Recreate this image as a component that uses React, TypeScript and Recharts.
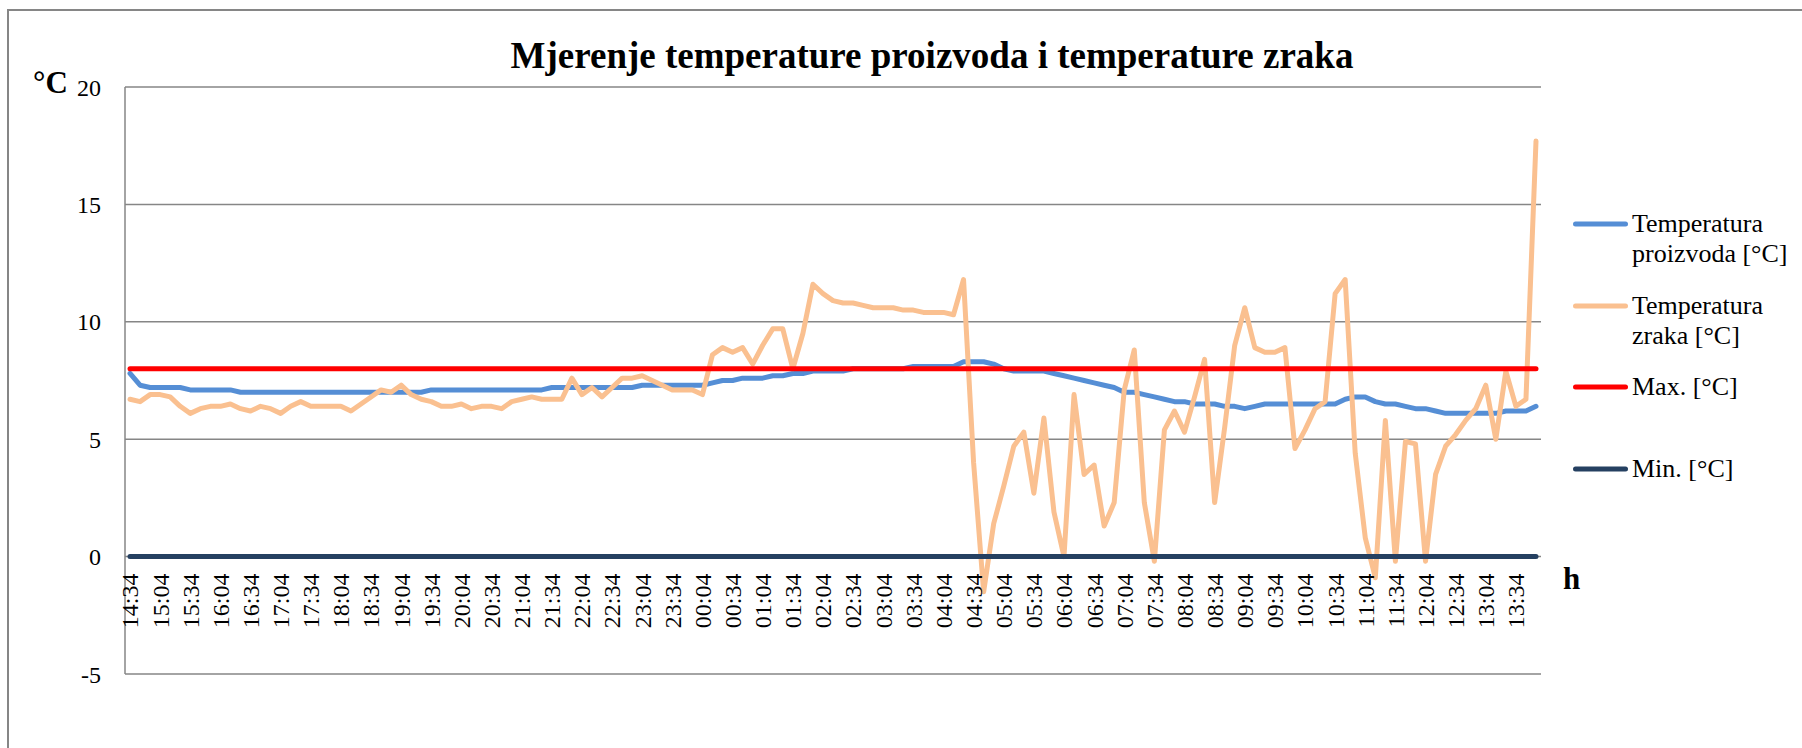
import React from 'react';
import { LineChart, Line, XAxis, YAxis, CartesianGrid, Legend } from 'recharts';

const FONT = '"Liberation Serif", "Times New Roman", Times, serif';

// ---- data ----
const categories = [
  '14:34','14:44','14:54',
  '15:04','15:14','15:24','15:34','15:44','15:54',
  '16:04','16:14','16:24','16:34','16:44','16:54',
  '17:04','17:14','17:24','17:34','17:44','17:54',
  '18:04','18:14','18:24','18:34','18:44','18:54',
  '19:04','19:14','19:24','19:34','19:44','19:54',
  '20:04','20:14','20:24','20:34','20:44','20:54',
  '21:04','21:14','21:24','21:34','21:44','21:54',
  '22:04','22:14','22:24','22:34','22:44','22:54',
  '23:04','23:14','23:24','23:34','23:44','23:54',
  '00:04','00:14','00:24','00:34','00:44','00:54',
  '01:04','01:14','01:24','01:34','01:44','01:54',
  '02:04','02:14','02:24','02:34','02:44','02:54',
  '03:04','03:14','03:24','03:34','03:44','03:54',
  '04:04','04:14','04:24','04:34','04:44','04:54',
  '05:04','05:14','05:24','05:34','05:44','05:54',
  '06:04','06:14','06:24','06:34','06:44','06:54',
  '07:04','07:14','07:24','07:34','07:44','07:54',
  '08:04','08:14','08:24','08:34','08:44','08:54',
  '09:04','09:14','09:24','09:34','09:44','09:54',
  '10:04','10:14','10:24','10:34','10:44','10:54',
  '11:04','11:14','11:24','11:34','11:44','11:54',
  '12:04','12:14','12:24','12:34','12:44','12:54',
  '13:04','13:14','13:24','13:34','13:44','13:54',
];

const temperaturaProizvoda = [
  7.8, 7.3, 7.2, 7.2, 7.2, 7.2, 7.1, 7.1, 7.1, 7.1,
  7.1, 7.0, 7.0, 7.0, 7.0, 7.0, 7.0, 7.0, 7.0, 7.0,
  7.0, 7.0, 7.0, 7.0, 7.0, 7.0, 7.0, 7.0, 7.0, 7.0,
  7.1, 7.1, 7.1, 7.1, 7.1, 7.1, 7.1, 7.1, 7.1, 7.1,
  7.1, 7.1, 7.2, 7.2, 7.2, 7.2, 7.2, 7.2, 7.2, 7.2,
  7.2, 7.3, 7.3, 7.3, 7.3, 7.3, 7.3, 7.3, 7.4, 7.5,
  7.5, 7.6, 7.6, 7.6, 7.7, 7.7, 7.8, 7.8, 7.9, 7.9,
  7.9, 7.9, 8.0, 8.0, 8.0, 8.0, 8.0, 8.0, 8.1, 8.1,
  8.1, 8.1, 8.1, 8.3, 8.3, 8.3, 8.2, 8.0, 7.9, 7.9,
  7.9, 7.9, 7.8, 7.7, 7.6, 7.5, 7.4, 7.3, 7.2, 7.0,
  7.0, 6.9, 6.8, 6.7, 6.6, 6.6, 6.5, 6.5, 6.5, 6.4,
  6.4, 6.3, 6.4, 6.5, 6.5, 6.5, 6.5, 6.5, 6.5, 6.5,
  6.5, 6.7, 6.8, 6.8, 6.6, 6.5, 6.5, 6.4, 6.3, 6.3,
  6.2, 6.1, 6.1, 6.1, 6.1, 6.1, 6.1, 6.2, 6.2, 6.2,
  6.4,
];

const temperaturaZraka = [
  6.7, 6.6, 6.9, 6.9, 6.8, 6.4, 6.1, 6.3, 6.4, 6.4,
  6.5, 6.3, 6.2, 6.4, 6.3, 6.1, 6.4, 6.6, 6.4, 6.4,
  6.4, 6.4, 6.2, 6.5, 6.8, 7.1, 7.0, 7.3, 6.9, 6.7,
  6.6, 6.4, 6.4, 6.5, 6.3, 6.4, 6.4, 6.3, 6.6, 6.7,
  6.8, 6.7, 6.7, 6.7, 7.6, 6.9, 7.2, 6.8, 7.2, 7.6,
  7.6, 7.7, 7.5, 7.3, 7.1, 7.1, 7.1, 6.9, 8.6, 8.9,
  8.7, 8.9, 8.2, 9.0, 9.7, 9.7, 8.0, 9.5, 11.6, 11.2,
  10.9, 10.8, 10.8, 10.7, 10.6, 10.6, 10.6, 10.5, 10.5, 10.4,
  10.4, 10.4, 10.3, 11.8, 4.0, -1.5, 1.4, 3.0, 4.7, 5.3,
  2.7, 5.9, 1.9, 0.0, 6.9, 3.5, 3.9, 1.3, 2.3, 7.1,
  8.8, 2.3, -0.2, 5.4, 6.2, 5.3, 6.8, 8.4, 2.3, 5.5,
  9.0, 10.6, 8.9, 8.7, 8.7, 8.9, 4.6, 5.4, 6.3, 6.6,
  11.2, 11.8, 4.4, 0.8, -0.9, 5.8, -0.2, 4.9, 4.8, -0.2,
  3.5, 4.7, 5.2, 5.8, 6.3, 7.3, 5.0, 7.9, 6.4, 6.7,
  17.7,
];

const maxValues = [
  8, 8, 8, 8, 8, 8, 8, 8, 8, 8, 8, 8, 8, 8, 8, 8, 8, 8, 8, 8,
  8, 8, 8, 8, 8, 8, 8, 8, 8, 8, 8, 8, 8, 8, 8, 8, 8, 8, 8, 8,
  8, 8, 8, 8, 8, 8, 8, 8, 8, 8, 8, 8, 8, 8, 8, 8, 8, 8, 8, 8,
  8, 8, 8, 8, 8, 8, 8, 8, 8, 8, 8, 8, 8, 8, 8, 8, 8, 8, 8, 8,
  8, 8, 8, 8, 8, 8, 8, 8, 8, 8, 8, 8, 8, 8, 8, 8, 8, 8, 8, 8,
  8, 8, 8, 8, 8, 8, 8, 8, 8, 8, 8, 8, 8, 8, 8, 8, 8, 8, 8, 8,
  8, 8, 8, 8, 8, 8, 8, 8, 8, 8, 8, 8, 8, 8, 8, 8, 8, 8, 8, 8,
  8,
];

const minValues = [
  0, 0, 0, 0, 0, 0, 0, 0, 0, 0, 0, 0, 0, 0, 0, 0, 0, 0, 0, 0,
  0, 0, 0, 0, 0, 0, 0, 0, 0, 0, 0, 0, 0, 0, 0, 0, 0, 0, 0, 0,
  0, 0, 0, 0, 0, 0, 0, 0, 0, 0, 0, 0, 0, 0, 0, 0, 0, 0, 0, 0,
  0, 0, 0, 0, 0, 0, 0, 0, 0, 0, 0, 0, 0, 0, 0, 0, 0, 0, 0, 0,
  0, 0, 0, 0, 0, 0, 0, 0, 0, 0, 0, 0, 0, 0, 0, 0, 0, 0, 0, 0,
  0, 0, 0, 0, 0, 0, 0, 0, 0, 0, 0, 0, 0, 0, 0, 0, 0, 0, 0, 0,
  0, 0, 0, 0, 0, 0, 0, 0, 0, 0, 0, 0, 0, 0, 0, 0, 0, 0, 0, 0,
  0,
];

const yTicks = [-5, 0, 5, 10, 15, 20];

const seriesKeys = ['proizvod', 'zrak', 'max', 'min'];
const seriesNames = ['Temperatura proizvoda [°C]', 'Temperatura zraka [°C]', 'Max. [°C]', 'Min. [°C]'];
const seriesColors = ['#558ED5', '#FAC090', '#FF0000', '#254061'];
const seriesValues = [temperaturaProizvoda, temperaturaZraka, maxValues, minValues];

const titleText = 'Mjerenje temperature proizvoda i temperature zraka';
const yUnitText = '°C';
const xUnitText = 'h';

const data = categories.map((t, i) => {
  const row: Record<string, any> = { t };
  seriesKeys.forEach((k, s) => { row[k] = seriesValues[s][i]; });
  return row;
});

// ---- layout ----
const W = 1802;
const H = 748;
const PLOT_LEFT = 125;
const PLOT_TOP = 87;
const PLOT_RIGHT = 1541;
const PLOT_BOTTOM = 674;
const Y_MIN = -5;
const Y_MAX = 20;
const GRID = '#868686';

function XTick(props: any) {
  const { x, y, payload } = props;
  const plotH = PLOT_BOTTOM - PLOT_TOP;
  const yZero = y - (plotH * (0 - Y_MIN)) / (Y_MAX - Y_MIN);
  return (
    <text
      transform={`translate(${x},${yZero + 17}) rotate(-90)`}
      textAnchor="end"
      dy="0.35em"
      fontSize={24}
      fontFamily={FONT}
      fill="#000"
    >
      {payload.value}
    </text>
  );
}

function LegendContent(props: any) {
  const payload = (props.payload || []).slice().sort(
    (a: any, b: any) => seriesNames.indexOf(a.value) - seriesNames.indexOf(b.value)
  );
  return (
    <div style={{ fontFamily: FONT, fontSize: 26, color: '#000' }}>
      {payload.map((entry: any) => (
        <div key={entry.value} style={{ height: 81.7, display: 'flex', alignItems: 'flex-start' }}>
          <svg width={59} height={30} style={{ flex: 'none', display: 'block' }}>
            <line x1={2.5} y1={15} x2={52.5} y2={15} stroke={entry.color} strokeWidth={5} strokeLinecap="round" />
          </svg>
          <div style={{ width: 170, lineHeight: '30px' }}>{entry.value}</div>
        </div>
      ))}
    </div>
  );
}

export default function App() {
  return (
    <div style={{ position: 'fixed', left: 0, top: 0, width: W, height: H, overflow: 'hidden', background: '#fff' }}>
      <div
        style={{
          position: 'absolute', left: 7, top: 9, width: 2000, height: 1000,
          border: `2px solid ${GRID}`, boxSizing: 'border-box',
        }}
      />
      <div style={{ position: 'absolute', left: 0, top: 0 }}>
        <LineChart
          width={W}
          height={H}
          data={data}
          margin={{ top: PLOT_TOP, right: W - PLOT_RIGHT, bottom: H - PLOT_BOTTOM - 1, left: 0 }}
        >
          <CartesianGrid horizontal vertical={false} stroke={GRID} strokeWidth={1.5} />
          <XAxis
            dataKey="t"
            interval={2}
            height={1}
            tickLine={false}
            axisLine={false}
            tickSize={0}
            tickMargin={0}
            padding={{ left: 5, right: 5 }}
            tick={(p: any) => <XTick {...p} />}
          />
          <YAxis
            type="number"
            domain={[Y_MIN, Y_MAX]}
            ticks={yTicks}
            interval={0}
            width={PLOT_LEFT}
            axisLine={{ stroke: GRID, strokeWidth: 1.5 }}
            tickLine={false}
            tickSize={0}
            tickMargin={24}
            tick={{ fontSize: 24, fontFamily: FONT, fill: '#000' }}
          />
          <Legend
            layout="vertical"
            align="center"
            verticalAlign="middle"
            width={229}
            wrapperStyle={{ left: 1573, top: 209, width: 229 }}
            content={(p: any) => <LegendContent {...p} />}
          />
          {seriesKeys.map((k, s) => (
            <Line
              key={k}
              type="linear"
              dataKey={k}
              name={seriesNames[s]}
              stroke={seriesColors[s]}
              strokeWidth={5}
              strokeLinejoin="round"
              strokeLinecap="round"
              dot={false}
              activeDot={false}
              isAnimationActive={false}
            />
          ))}
        </LineChart>
      </div>
      <svg width={W} height={H} style={{ position: 'absolute', left: 0, top: 0, pointerEvents: 'none' }}>
        <text x={932} y={68} textAnchor="middle" fontFamily={FONT} fontWeight="bold" fontSize={37} fill="#000">
          {titleText}
        </text>
        <text x={33} y={93} fontFamily={FONT} fontWeight="bold" fontSize={31} fill="#000">
          {yUnitText}
        </text>
        <text x={1563} y={589} fontFamily={FONT} fontWeight="bold" fontSize={31} fill="#000">
          {xUnitText}
        </text>
      </svg>
    </div>
  );
}
